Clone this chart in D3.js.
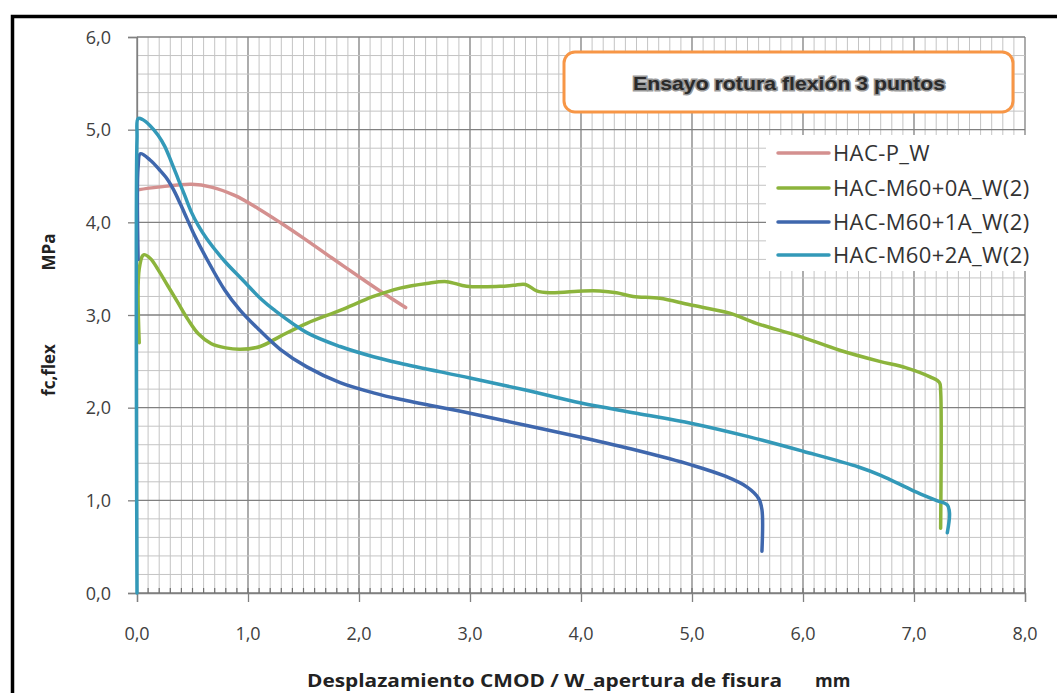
<!DOCTYPE html>
<html><head><meta charset="utf-8">
<script src="https://cdn.jsdelivr.net/npm/d3@7"></script>
<style>body{margin:0;background:#fff}svg{display:block}</style>
</head><body>
<svg id="c" width="1057" height="693"></svg>
<script>
const seriesNames = ["HAC-P_W","HAC-M60+0A_W(2)","HAC-M60+1A_W(2)","HAC-M60+2A_W(2)"];
const seriesColors = ["#d4908f","#8cb43c","#3f67ad","#3399b8"];
const xTicks = [0,1,2,3,4,5,6,7,8];
const yTicks = [0,1,2,3,4,5,6];
const fmt = v => v.toFixed(1).replace(".", ",");

const hacP = [[0,4.35],[0.19,4.38],[0.49,4.41],[0.67,4.38],[0.88,4.29],[1.09,4.15],[1.3,3.99],[1.5,3.83],[1.75,3.62],[2.04,3.38],[2.2,3.25],[2.42,3.08]];
const hac0A = [[0.02,2.7],[0.02,3.5],[0.06,3.65],[0.12,3.61],[0.19,3.49],[0.28,3.31],[0.37,3.13],[0.46,2.95],[0.55,2.8],[0.67,2.69],[0.8,2.645],[0.93,2.63],[1.11,2.66],[1.29,2.77],[1.53,2.91],[1.83,3.05],[2.13,3.2],[2.37,3.29],[2.61,3.34],[2.79,3.36],[2.97,3.31],[3.27,3.31],[3.39,3.32],[3.5,3.33],[3.6,3.26],[3.72,3.24],[4.02,3.26],[4.17,3.26],[4.32,3.24],[4.47,3.2],[4.71,3.18],[4.98,3.11],[5.34,3.02],[5.58,2.91],[5.97,2.77],[6.33,2.62],[6.69,2.5],[6.93,2.43],[7.15,2.33],[7.23,2.27],[7.24,2.18],[7.24,0.70]];
const hac1A = [[0.01,3.6],[0.01,4.6],[0.03,4.74],[0.12,4.67],[0.2,4.57],[0.27,4.47],[0.33,4.35],[0.39,4.2],[0.45,4.04],[0.51,3.88],[0.64,3.58],[0.79,3.27],[0.93,3.05],[1.1,2.84],[1.29,2.63],[1.53,2.44],[1.83,2.27],[2.13,2.16],[2.37,2.09],[3.0,1.94],[3.5,1.81],[4.0,1.68],[4.5,1.54],[5.0,1.38],[5.3,1.26],[5.5,1.14],[5.6,1.02],[5.63,0.9],[5.63,0.45]];
const hac2A = [[0,0],[0,4.9],[0.01,5.12],[0.05,5.11],[0.12,5.04],[0.19,4.94],[0.25,4.82],[0.31,4.65],[0.37,4.47],[0.43,4.29],[0.49,4.11],[0.55,3.97],[0.63,3.82],[0.79,3.58],[0.95,3.38],[1.12,3.17],[1.23,3.06],[1.53,2.81],[1.83,2.66],[2.13,2.55],[2.37,2.48],[3.0,2.32],[3.5,2.19],[4.0,2.05],[4.5,1.94],[5.0,1.83],[5.5,1.69],[6.0,1.53],[6.5,1.36],[6.7,1.27],[7.0,1.1],[7.2,1.0],[7.3,0.95],[7.32,0.86],[7.3,0.65]];
const seriesData = [hacP, hac0A, hac1A, hac2A];

const svg = d3.select("#c");
const x = d3.scaleLinear().domain([0,8]).range([137,1025]);
const y = d3.scaleLinear().domain([0,6]).range([593,37]);

// outer frame
svg.append("path").attr("d","M12.5,693 L12.5,16.5 L1057,16.5").attr("fill","none").attr("stroke","#000").attr("stroke-width",3.5);

const g = svg.append("g");
const xMinor = d3.range(0,80.5,1).map(d=>d/10);
const yMinor = d3.range(0,30.5,1).map(d=>d/5);
const isMaj = d => Math.abs(d-Math.round(d))<1e-6;
g.selectAll(".vx").data(xMinor).join("line")
 .attr("x1",d=>x(d)).attr("x2",d=>x(d)).attr("y1",y(0)).attr("y2",y(6))
 .attr("stroke",d=>isMaj(d)?"#808080":"#c4c4c4").attr("stroke-width",d=>isMaj(d)?1.3:1);
g.selectAll(".hy").data(yMinor).join("line")
 .attr("x1",x(0)).attr("x2",x(8)).attr("y1",d=>y(d)).attr("y2",d=>y(d))
 .attr("stroke",d=>isMaj(d)?"#808080":"#c4c4c4").attr("stroke-width",d=>isMaj(d)?1.3:1);

// axes
const xa = svg.append("g").attr("transform",`translate(0,${y(0)})`)
 .call(d3.axisBottom(x).tickValues(xTicks).tickSize(9).tickFormat(""));
const ya = svg.append("g").attr("transform",`translate(${x(0)},0)`)
 .call(d3.axisLeft(y).tickValues(yTicks).tickSize(9).tickFormat(""));
[xa,ya].forEach(a=>{a.select(".domain").attr("stroke","#808080").attr("stroke-width",1.3);a.selectAll("line").attr("stroke","#808080").attr("stroke-width",1.3);});
svg.append("g").selectAll("line").data(xMinor).join("line")
 .attr("x1",d=>x(d)).attr("x2",d=>x(d)).attr("y1",y(0)).attr("y2",y(0)-5)
 .attr("stroke","#707070").attr("stroke-width",1.2);

// tick labels
svg.append("g").selectAll("text").data(yTicks).join("text")
 .attr("x",111).attr("y",d=>y(d)+6.5).attr("text-anchor","end")
 .attr("font-family","Open Sans").attr("font-size",18).attr("fill","#404040").text(fmt);
svg.append("g").selectAll("text").data(xTicks).join("text")
 .attr("x",d=>x(d)).attr("y",640).attr("text-anchor","middle")
 .attr("font-family","Open Sans").attr("font-size",18).attr("fill","#404040").text(fmt);

// axis titles
svg.append("text").attr("x",307).attr("y",687).attr("font-family","Open Sans").attr("font-weight","bold")
 .attr("font-size",18).attr("fill","#222").attr("textLength",475).attr("lengthAdjust","spacingAndGlyphs")
 .text("Desplazamiento CMOD / W_apertura de fisura");
svg.append("text").attr("x",815).attr("y",687).attr("font-family","Open Sans").attr("font-weight","bold")
 .attr("font-size",18).attr("fill","#222").text("mm");
svg.append("text").attr("transform","translate(55,370) rotate(-90)").attr("text-anchor","middle")
 .attr("font-family","Open Sans").attr("font-weight","bold").attr("font-size",17).attr("fill","#222").text("fc,flex");
svg.append("text").attr("transform","translate(55,252) rotate(-90)").attr("text-anchor","middle")
 .attr("font-family","Open Sans").attr("font-weight","bold").attr("font-size",17).attr("fill","#222").text("MPa");

// title box
svg.append("rect").attr("x",564).attr("y",52).attr("width",449).attr("height",60).attr("rx",11)
 .attr("fill","#fff").attr("stroke","#f79646").attr("stroke-width",3);
svg.append("text").attr("x",633).attr("y",90).attr("font-family","Liberation Sans").attr("font-weight","bold")
 .attr("font-size",19).attr("fill","none").attr("stroke","#999").attr("stroke-width",3)
 .attr("textLength",312).attr("lengthAdjust","spacingAndGlyphs").text("Ensayo rotura flexión  3 puntos");
svg.append("text").attr("x",633).attr("y",90).attr("font-family","Liberation Sans").attr("font-weight","bold")
 .attr("font-size",19).attr("fill","#2a2a2a")
 .attr("textLength",312).attr("lengthAdjust","spacingAndGlyphs").text("Ensayo rotura flexión  3 puntos");

// legend
svg.append("rect").attr("x",766).attr("y",135).attr("width",274).attr("height",136).attr("fill","#fff");
const rows = [153,188,222,255];
const lg = svg.append("g");
seriesNames.forEach((n,i)=>{
  lg.append("line").attr("x1",778).attr("x2",829).attr("y1",rows[i]).attr("y2",rows[i])
    .attr("stroke",seriesColors[i]).attr("stroke-width",3.5).attr("stroke-linecap","round");
  lg.append("text").attr("x",833).attr("y",rows[i]+8).attr("font-family","Open Sans").attr("font-size",22)
    .attr("letter-spacing",0.4).attr("fill","#333").text(n);
});

// lines
const line = d3.line().x(d=>x(d[0])).y(d=>y(d[1])).curve(d3.curveCatmullRom.alpha(0.5));
seriesData.forEach((s,i)=>{
  svg.append("path").datum(s).attr("d",line).attr("fill","none").attr("stroke",seriesColors[i])
    .attr("stroke-width",3.5).attr("stroke-linejoin","round").attr("stroke-linecap","round");
});
</script>
</body></html>
